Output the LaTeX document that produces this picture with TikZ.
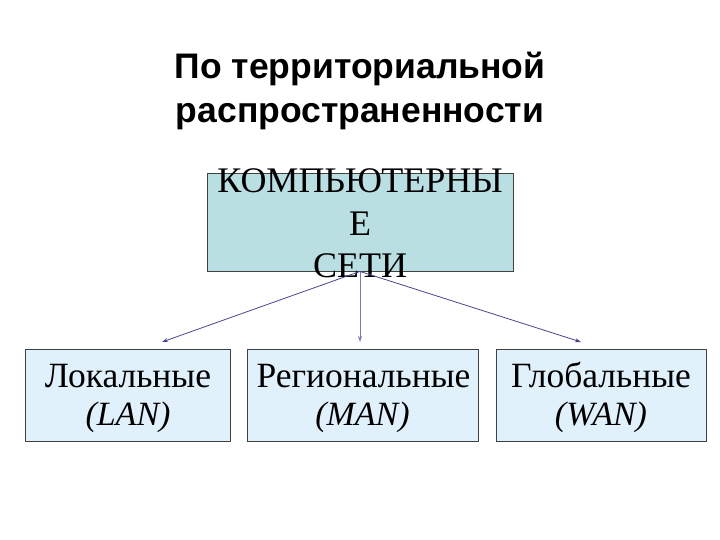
\documentclass[tikz,border=0pt]{standalone}
\usepackage{fontspec}
\setmainfont{Liberation Serif}
\newfontfamily\titlefont{Liberation Sans}
\usetikzlibrary{arrows.meta}
\definecolor{topfill}{RGB}{185,223,227}
\definecolor{subfill}{RGB}{225,241,251}
\definecolor{edgegray}{RGB}{64,64,64}
\definecolor{arrowblue}{RGB}{70,70,140}
\definecolor{arrowmid}{RGB}{130,120,175}
\begin{document}
\begin{tikzpicture}[x=1pt,y=-1pt,
  box/.style={draw=edgegray,line width=0.9pt,inner sep=0pt},
  topbox/.style={box,fill=topfill,minimum width=306pt,minimum height=98pt},
  subbox/.style={box,fill=subfill,minimum height=92pt},
  toptext/.style={anchor=base,inner sep=0pt,font=\fontsize{36}{42}\selectfont},
  subtext/.style={anchor=base,inner sep=0pt,font=\fontsize{35.5}{38}\selectfont},
  subital/.style={anchor=base,inner sep=0pt,font=\fontsize{34}{38}\selectfont\itshape},
  titletext/.style={anchor=base,inner sep=0pt,font=\titlefont\bfseries\fontsize{35.5}{44}\selectfont},
  conn/.style={-{Stealth[length=6pt,width=4pt]},line width=0.8pt,draw=arrowblue}]
\useasboundingbox (0,0) rectangle (720,540);
\node[titletext] (t1) at (360,79) {По территориальной};
\node[titletext] (t2) at (360,123) {распространенности};
\node[topbox] (top) at (360,222) {};
\node[toptext] (l1) at (360,193) {КОМПЬЮТЕРНЫ};
\node[toptext] (l2) at (360,236) {Е};
\node[toptext] (l3) at (360,277) {СЕТИ};
\node[subbox,minimum width=205pt] (lan) at (127.5,395) {};
\node[subbox,minimum width=231pt] (man) at (362.5,395) {};
\node[subbox,minimum width=210pt] (wan) at (601,395) {};
\node[subtext] (lan1) at (128,387) {Локальные};
\node[subital] (lan2) at (128,425) {(LAN)};
\node[subtext] (man1) at (363.5,387) {Региональные};
\node[subital] (man2) at (362.5,425) {(MAN)};
\node[subtext] (wan1) at (601,387) {Глобальные};
\node[subital] (wan2) at (601,425) {(WAN)};
\coordinate (src) at (top.south);
\coordinate (el) at (162,342);
\coordinate (em) at (360,342);
\coordinate (er) at (581,342);
\draw[conn] (src) -- (el);
\draw[conn,draw=arrowmid] (src) -- (em);
\draw[conn] (src) -- (er);
\end{tikzpicture}
\end{document}
